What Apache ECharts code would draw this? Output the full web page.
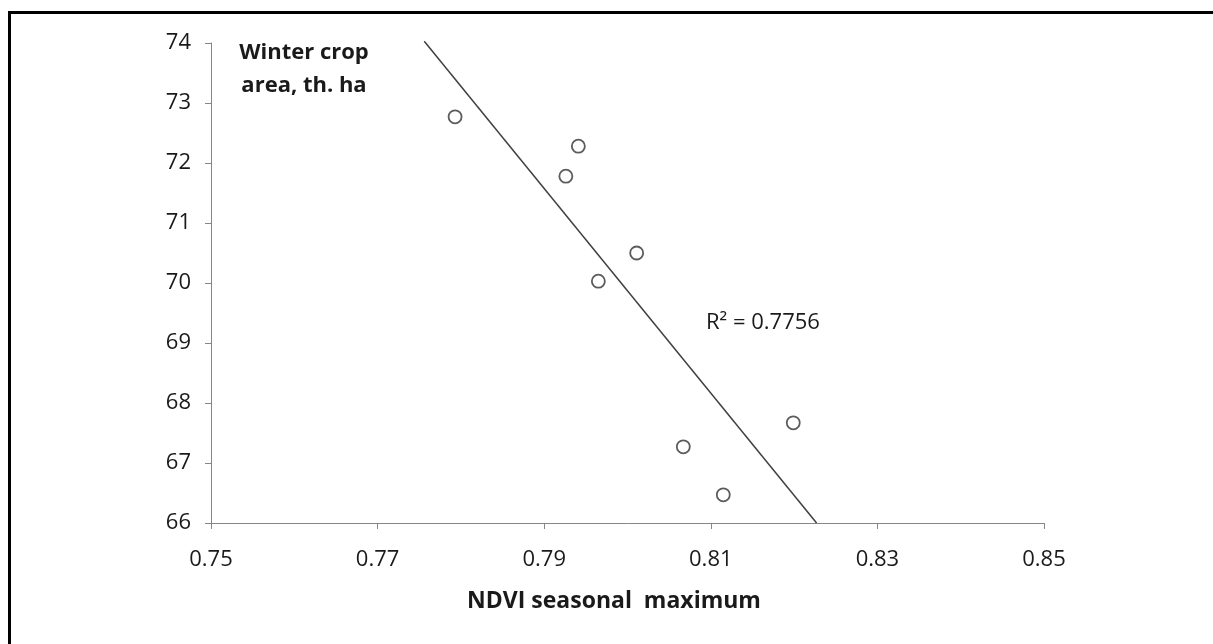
<!DOCTYPE html>
<html>
<head>
<meta charset="utf-8">
<script src="https://cdn.jsdelivr.net/npm/echarts@6/dist/echarts.min.js"></script>
<style>html,body{margin:0;padding:0;background:#fff;}#c{width:1213px;height:644px;}</style>
</head>
<body>
<div id="c"></div>
<script>
// Data
const ndviMax = [0.7793, 0.7941, 0.7926, 0.8011, 0.7965, 0.8067, 0.8199, 0.8115];
const cropArea = [72.77, 72.28, 71.78, 70.50, 70.03, 67.27, 67.67, 66.47];
const trendX = [0.7756, 0.8227];
const trendY = [74.03, 66.0];
const xTicks = [0.75, 0.77, 0.79, 0.81, 0.83, 0.85];
const yTicks = [66, 67, 68, 69, 70, 71, 72, 73, 74];
const yTitleLines = ['Winter crop', 'area, th. ha'];
const xTitle = 'NDVI seasonal  maximum';
const r2Text = 'R\u00B2 = 0.7756';

const FONT = "'Open Sans', 'Noto Sans', sans-serif";
const chart = echarts.init(document.getElementById('c'), null, {renderer: 'canvas'});

const points = ndviMax.map((x, i) => [x, cropArea[i]]);
const trend = trendX.map((x, i) => [x, trendY[i]]);

chart.setOption({
  animation: false,
  backgroundColor: '#fff',
  grid: {left: 211, top: 43, right: 169, bottom: 121, containLabel: false},
  xAxis: {
    type: 'value', min: xTicks[0], max: xTicks[xTicks.length - 1], interval: 0.02,
    axisLine: {show: true, lineStyle: {color: '#868686', width: 1}},
    axisTick: {show: true, inside: false, length: 6, lineStyle: {color: '#868686'}},
    splitLine: {show: false},
    axisLabel: {color: '#1a1a1a', fontFamily: FONT, fontSize: 22, margin: 26,
      formatter: v => v.toFixed(2)}
  },
  yAxis: {
    type: 'value', min: yTicks[0], max: yTicks[yTicks.length - 1], interval: 1,
    axisLine: {show: true, lineStyle: {color: '#868686', width: 1}},
    axisTick: {show: true, inside: false, length: 6, lineStyle: {color: '#868686'}},
    splitLine: {show: false},
    axisLabel: {color: '#1a1a1a', fontFamily: FONT, fontSize: 22, margin: 20}
  },
  series: [
    {
      type: 'line', data: trend, symbol: 'none', clip: false,
      lineStyle: {color: '#404040', width: 1.5}, silent: true
    },
    {
      type: 'scatter', data: points, symbol: 'circle', symbolSize: 13,
      itemStyle: {color: '#fff', borderColor: '#333', borderWidth: 1.8}
    }
  ],
  graphic: [
    {type: 'rect', shape: {x: 9.5, y: 12.5, width: 1400, height: 800},
     style: {fill: 'none', stroke: '#000', lineWidth: 3}, silent: true},
    {type: 'text', x: 304, y: 53,
     style: {text: yTitleLines[0], fontFamily: FONT, fontWeight: 'bold', fontSize: 22,
       fill: '#1a1a1a', align: 'center', verticalAlign: 'middle'}},
    {type: 'text', x: 304, y: 86,
     style: {text: yTitleLines[1], fontFamily: FONT, fontWeight: 'bold', fontSize: 22,
       fill: '#1a1a1a', align: 'center', verticalAlign: 'middle'}},
    {type: 'text', x: 614, y: 601,
     style: {text: xTitle, fontFamily: FONT, fontWeight: 'bold', fontSize: 23, fill: '#1a1a1a',
       align: 'center', verticalAlign: 'middle'}},
    {type: 'text', x: 706, y: 323,
     style: {text: r2Text, fontFamily: FONT, fontSize: 22, fill: '#1a1a1a', verticalAlign: 'middle'}}
  ]
});
</script>
</body>
</html>
